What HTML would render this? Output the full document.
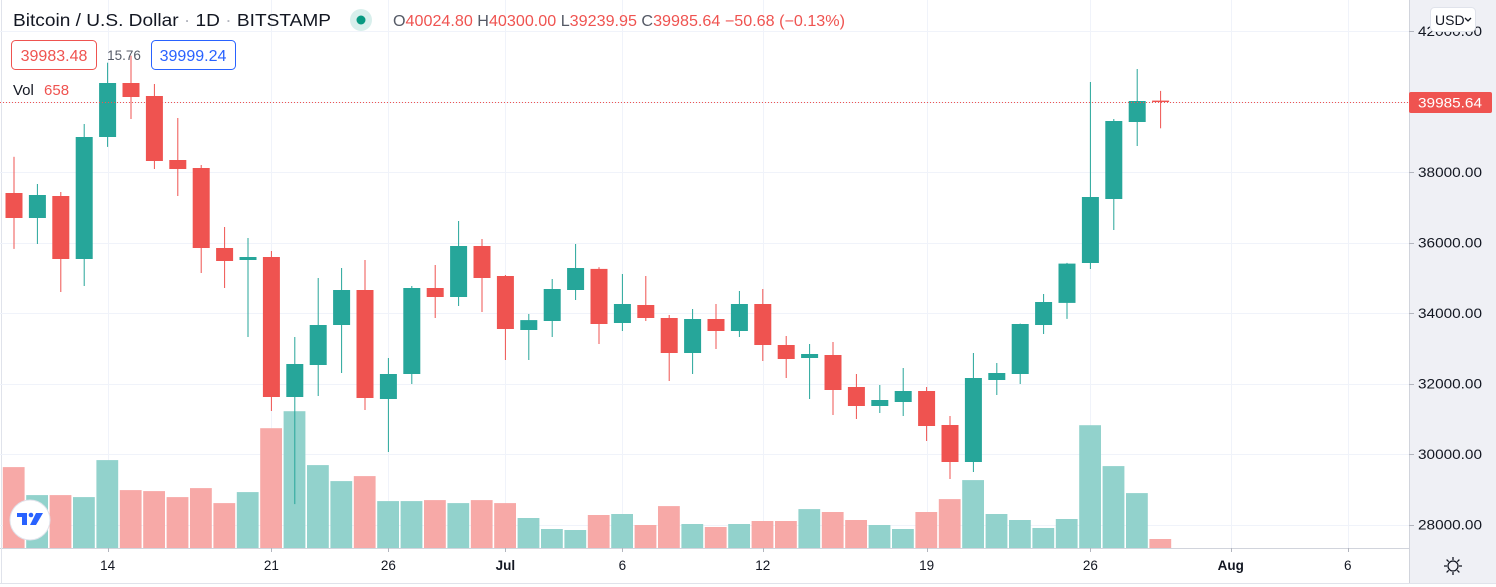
<!DOCTYPE html>
<html><head><meta charset="utf-8">
<style>
html,body{margin:0;padding:0;background:#fff;}
body{width:1496px;height:587px;overflow:hidden;position:relative;font-family:"Liberation Sans",sans-serif;}
svg{position:absolute;left:0;top:0;}
</style></head>
<body>
<svg id="chart" width="1496" height="587" viewBox="0 0 1496 587" xmlns="http://www.w3.org/2000/svg">
  <rect x="0" y="0" width="1496" height="587" fill="#ffffff"/>
  <rect x="1409" y="0" width="87" height="548" fill="#eff0f5"/>
  <rect x="1409" y="548" width="87" height="35" fill="#eff0f5"/>
  <line x1="1409.5" y1="0" x2="1409.5" y2="583" stroke="#d1d4dc"/>
  <line x1="0" y1="548.5" x2="1409" y2="548.5" stroke="#d1d4dc"/>
  <line x1="0" y1="583.5" x2="1496" y2="583.5" stroke="#e0e3eb"/>
  <line x1="1.5" y1="0" x2="1.5" y2="583" stroke="#e0e3eb"/>
  <g id="grid"></g>
  <g id="volumes"></g>
  <g id="candles"></g>
  <g id="axes"></g>
</svg>

<script>
const dates = ["Jun 10","Jun 11","Jun 12","Jun 13","Jun 14","Jun 15","Jun 16","Jun 17","Jun 18","Jun 19","Jun 20","Jun 21","Jun 22","Jun 23","Jun 24","Jun 25","Jun 26","Jun 27","Jun 28","Jun 29","Jun 30","Jul 1","Jul 2","Jul 3","Jul 4","Jul 5","Jul 6","Jul 7","Jul 8","Jul 9","Jul 10","Jul 11","Jul 12","Jul 13","Jul 14","Jul 15","Jul 16","Jul 17","Jul 18","Jul 19","Jul 20","Jul 21","Jul 22","Jul 23","Jul 24","Jul 25","Jul 26","Jul 27","Jul 28","Jul 29"];
const opens  = [37405,36695,37320,35532,38993,40525,40157,38340,38114,35845,35504,35590,31617,32525,33660,34653,31560,32270,34710,34454,35900,35050,33518,33773,34653,35250,33716,34227,33858,32865,33830,33490,34255,33092,32723,32808,31900,31362,31475,31787,30823,29773,32099,32270,33660,34284,35420,37234,39419,40024.8];
const highs  = [38430,37660,37433,39362,41100,41300,40497,39532,38200,36440,36128,35760,33320,34993,35277,35504,32723,34766,35362,36610,36100,35078,33972,34965,35958,35300,35106,35050,33943,34114,34255,34624,34681,33348,33120,33177,32270,31958,32440,31900,31078,32865,32582,33700,34539,35420,40554,39504,40923,40300];
const lows   = [35816,35958,34596,34766,38710,39504,38085,37320,35135,34710,33320,31220,28580,31645,32298,31250,30057,31986,33858,34199,34028,32667,32667,33320,34369,33120,33490,33773,32071,32270,32979,33320,32638,32156,31560,31106,30993,31163,31078,30369,29290,29489,31674,31986,33404,33830,35250,36355,38738,39239.95];
const closes = [36695,37348,35532,38993,40525,40128,38312,38085,35845,35475,35590,31617,32553,33660,34653,31590,32270,34710,34454,35900,34993,33546,33800,34681,35277,33688,34255,33858,32865,33830,33490,34255,33092,32695,32837,31816,31362,31532,31787,30794,29773,32156,32298,33688,34312,35400,37291,39447,40014,39985.64];
const volumes = [5913,3869,3869,3723,6424,4234,4161,3723,4380,3285,4088,8760,10001,6059,4891,5256,3431,3431,3504,3285,3504,3285,2190,1387,1314,2409,2482,1679,3066,1752,1533,1752,1971,1971,2847,2628,2044,1679,1387,2628,3577,4964,2482,2044,1460,2117,8979,5986,4015,658];
const priceTicks = [28000,30000,32000,34000,36000,38000,40000,42000];
const priceTickLabels = ["28000.00","30000.00","32000.00","34000.00","36000.00","38000.00","40000.00","42000.00"];
const timeTickIdx = [4,11,16,21,26,32,39,46,52,57];
const timeTickLabels = ["14","21","26","Jul","6","12","19","26","Aug","6"];
const lastPrice = 39985.64;

const NS="http://www.w3.org/2000/svg";
const yP = p => 454 - (p-30000)*0.03525;
const xI = i => 14 + i*23.4;
const yV = v => 548 - v/73.1;
const GREEN="#26a69a", RED="#ef5350", GV="#92d2cc", RV="#f7a9a7";
function mk(tag, attrs, parent){const e=document.createElementNS(NS,tag);for(const k in attrs)e.setAttribute(k,attrs[k]);parent.appendChild(e);return e;}

const grid=document.getElementById('grid');
priceTicks.forEach((p,k)=>{
  const l=mk('line',{x1:0,x2:1409,y1:Math.round(yP(p))+0.5,y2:Math.round(yP(p))+0.5,stroke:'#f0f3fa'},grid);
  
  
});
timeTickIdx.forEach(i=>{
  const l=mk('line',{x1:Math.round(xI(i))+0.5,x2:Math.round(xI(i))+0.5,y1:0,y2:548,stroke:'#f0f3fa'},grid);
  
  
});

const vg=document.getElementById('volumes');
volumes.forEach((v,i)=>{
  const up=closes[i]>=opens[i];
  const r=mk('rect',{x:(xI(i)-11.2).toFixed(1),y:yV(v).toFixed(1),width:21.8,height:(548-yV(v)).toFixed(1),fill:up?GV:RV},vg);
  
  
});

const cg=document.getElementById('candles');
opens.forEach((o,i)=>{
  const c=closes[i], up=c>=o, col=up?GREEN:RED, x=xI(i);
  const g=mk('g',{},cg);
  
  
  mk('rect',{x:(x-0.5).toFixed(1),y:yP(highs[i]).toFixed(1),width:1,height:(yP(lows[i])-yP(highs[i])).toFixed(1),fill:col},g);
  const top=yP(Math.max(o,c)), bot=yP(Math.min(o,c));
  mk('rect',{x:(x-8.5).toFixed(1),y:top.toFixed(1),width:17,height:Math.max(1,bot-top).toFixed(1),fill:col},g);
});

const ag=document.getElementById('axes');
const ly=Math.round(yP(lastPrice))+0.5;
const pl=mk('line',{x1:0,x2:1409,y1:ly,y2:ly,stroke:RED,'stroke-dasharray':'1 2'},ag);


priceTicks.forEach((p,k)=>{
  const y=yP(p);
  mk('line',{x1:1409,x2:1414,y1:Math.round(y)+0.5,y2:Math.round(y)+0.5,stroke:'#b2b5be'},ag);
  const t=mk('text',{x:1418,y:y+5,'font-size':14,fill:'#131722',textLength:64,lengthAdjust:'spacingAndGlyphs','font-family':'Liberation Sans, sans-serif'},ag);
  t.textContent=priceTickLabels[k];
  
  
});
timeTickIdx.forEach((i,k)=>{
  const x=xI(i);
  mk('line',{x1:Math.round(x)+0.5,x2:Math.round(x)+0.5,y1:548,y2:552,stroke:'#b2b5be'},ag);
  const t=mk('text',{x:x,y:570,'font-size':13.5,fill:'#131722','text-anchor':'middle','font-weight':(timeTickLabels[k]==='Jul'||timeTickLabels[k]==='Aug')?'bold':'normal','font-family':'Liberation Sans, sans-serif'},ag);
  t.textContent=timeTickLabels[k];
  
  
});
const lb=mk('g',{},ag);


mk('rect',{x:1409,y:ly-10.5,width:83,height:21,rx:2,fill:RED},lb);
const lt=mk('text',{x:1418,y:ly+5,'font-size':14,fill:'#fff',textLength:64,lengthAdjust:'spacingAndGlyphs','font-family':'Liberation Sans, sans-serif'},lb);
lt.textContent=lastPrice.toFixed(2);
</script>

<svg width="1496" height="587" style="pointer-events:none" xmlns="http://www.w3.org/2000/svg">
  <g font-family="Liberation Sans, sans-serif">
    <text x="13" y="26" font-size="17.5" fill="#131722" textLength="318" lengthAdjust="spacingAndGlyphs">Bitcoin / U.S. Dollar <tspan fill="#b2b5be">·</tspan> 1D <tspan fill="#b2b5be">·</tspan> BITSTAMP</text>
    <circle cx="361" cy="20" r="11" fill="#d8efec"/>
    <circle cx="361" cy="20" r="4.5" fill="#089981"/>
    <text x="393" y="26" font-size="15.5" fill="#ef5350" textLength="452" lengthAdjust="spacingAndGlyphs"><tspan fill="#555a66">O</tspan>40024.80 <tspan fill="#555a66">H</tspan>40300.00 <tspan fill="#555a66">L</tspan>39239.95 <tspan fill="#555a66">C</tspan>39985.64 −50.68 (−0.13%)</text>
    <rect x="11.5" y="40.5" width="85" height="29" rx="4" fill="#fff" stroke="#ef5350"/>
    <text x="54" y="61" font-size="16" fill="#ef5350" text-anchor="middle">39983.48</text>
    <text x="124" y="60" font-size="13.5" fill="#555a66" text-anchor="middle">15.76</text>
    <rect x="151.5" y="40.5" width="84" height="29" rx="4" fill="#fff" stroke="#2962ff"/>
    <text x="193" y="61" font-size="16" fill="#2962ff" text-anchor="middle">39999.24</text>
    <text x="13" y="95" font-size="15" fill="#131722">Vol <tspan dx="6" fill="#ef5350">658</tspan></text>
  </g>
  <g>
    <rect x="1430.5" y="7.5" width="45" height="24" rx="4" fill="#fff" stroke="#e0e3eb"/>
    <text x="1435" y="25" font-size="14" fill="#131722" font-family="Liberation Sans, sans-serif">USD</text>
    <path d="M1465 18 l3 3 l3 -3" fill="none" stroke="#131722" stroke-width="1.3"/>
  </g>
  <g>
    <circle cx="30" cy="520" r="20" fill="#fff" stroke="#e0e3eb"/>
    <path d="M17 513 h10 v12 h-5 v-8 h-5z" fill="#2962ff"/>
    <circle cx="31" cy="515" r="2.3" fill="#2962ff"/>
    <path d="M36 513 h7 l-7 12 h-6z" fill="#2962ff"/>
  </g>
  <g fill="none" stroke="#131722" stroke-width="1.3">
    <circle cx="1453" cy="566" r="5"/>
    <path d="M1453 557 v3 M1453 572 v3 M1444 566 h3 M1459 566 h3 M1446.6 559.6 l2.1 2.1 M1457.3 570.3 l2.1 2.1 M1446.6 572.4 l2.1 -2.1 M1457.3 561.7 l2.1 -2.1"/>
  </g>
</svg>
</body></html>
